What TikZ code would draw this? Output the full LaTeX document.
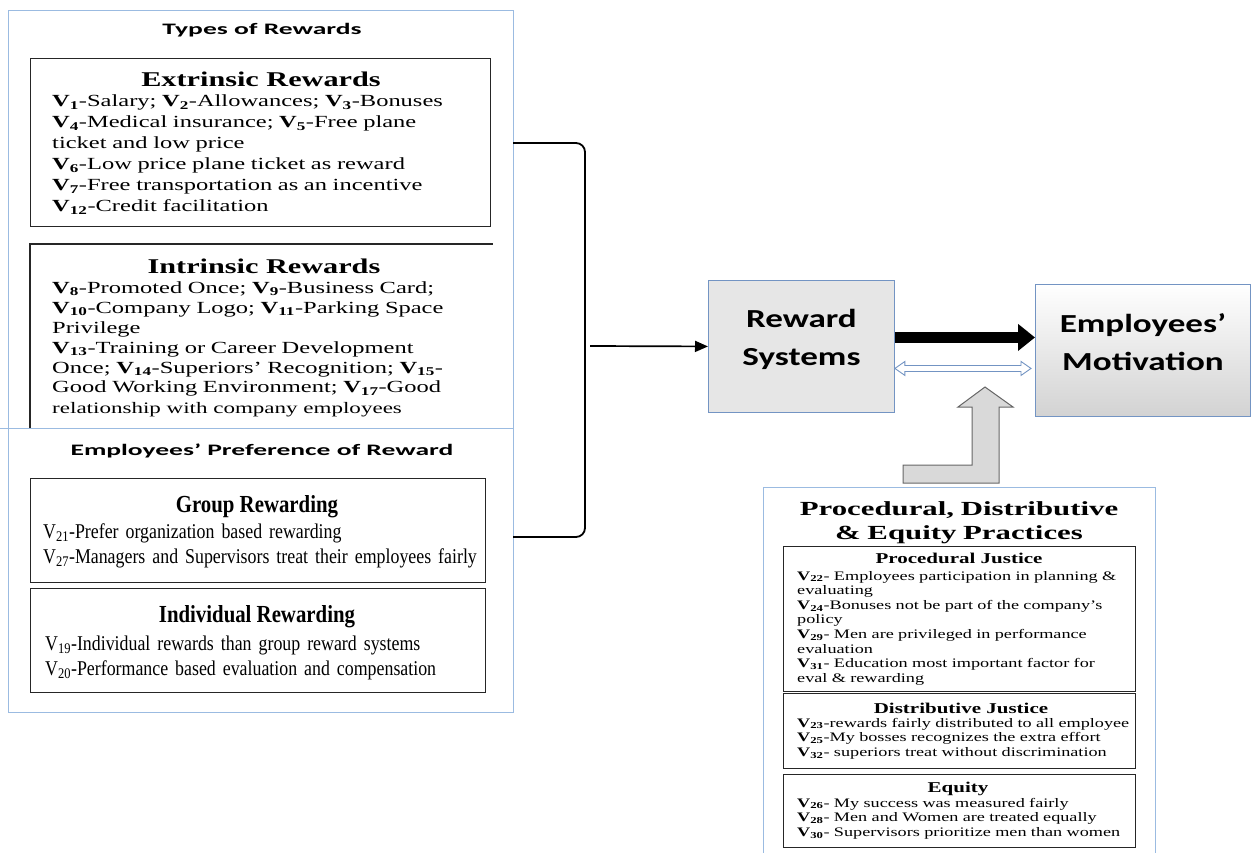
\documentclass[tikz,border=0pt]{standalone}
\usepackage{fontspec}
\setmainfont{Liberation Serif}
\newfontfamily\widefont{Liberation Serif}[FakeStretch=1.44]
\newfontfamily\narrowfont{Liberation Serif}[FakeStretch=0.85]
\newfontfamily\pracfont{Liberation Serif}[FakeStretch=1.4]
\newfontfamily\titlefont{Liberation Serif}[FakeStretch=1.54]
\newfontfamily\secfont{Carlito}[FakeStretch=1.72]
\newfontfamily\blockfont{Carlito}[FakeStretch=1.35]
\usetikzlibrary{arrows.meta,calc}
\definecolor{frameblue}{RGB}{155,187,225}
\definecolor{boxblue}{RGB}{115,148,195}
\definecolor{boxgray}{RGB}{230,230,230}
\definecolor{arrowgray}{RGB}{217,217,217}
\newcommand{\vbold}[1]{\textbf{V\textsubscript{#1}}}
\newcommand{\vplain}[1]{V\textsubscript{#1}}
\begin{document}
\begin{tikzpicture}[x=1pt,y=-1pt,
    outerframe/.style={draw=frameblue,line width=0.9pt,inner sep=0pt,anchor=north west},
    ibox/.style={draw=black!85,line width=1.4pt,inner sep=0pt,anchor=north west},
    iline/.style={draw=black!85,line width=1.4pt},
    block/.style={draw=boxblue,line width=0.9pt,inner sep=0pt,anchor=north west,align=center,
        font=\blockfont\bfseries\fontsize{26}{38}\selectfont},
    secttitle/.style={font=\secfont\bfseries\fontsize{16}{19}\selectfont,anchor=base,inner sep=0pt},
    widehead/.style={font=\widefont\bfseries\fontsize{21}{25}\selectfont,anchor=base,inner sep=0pt},
    widebody/.style={font=\widefont\fontsize{17}{21}\selectfont,anchor=base west,inner sep=0pt,text width=450pt,align=left},
    narrowhead/.style={font=\narrowfont\bfseries\fontsize{24.5}{28}\selectfont,anchor=base,inner sep=0pt},
    narrowbody/.style={font=\narrowfont\fontsize{21}{25}\selectfont,anchor=base west,inner sep=0pt,text width=450pt,align=left},
    practitle/.style={font=\titlefont\bfseries\fontsize{20}{24}\selectfont,anchor=base,inner sep=0pt,text width=392pt,align=center},
    prachead/.style={font=\pracfont\bfseries\fontsize{15}{18}\selectfont,anchor=base,inner sep=0pt},
    pracbody/.style={font=\pracfont\fontsize{13}{14.6}\selectfont,anchor=base west,inner sep=0pt,text width=400pt,align=left},
    bracket/.style={line width=1.8pt,rounded corners=9pt},
    feed/.style={line width=1.7pt,-{Triangle[length=13pt,width=11pt]}},
    thickarrow/.style={line width=11pt,-{Triangle[length=17pt,width=26pt]}},
    hollowarrow/.style={draw=boxblue,fill=white,line width=0.9pt}]
    \useasboundingbox (0,0) rectangle (1253,853);
    \node[outerframe,minimum width=505pt,minimum height=702pt] (types) at (8,10) {};
    \draw[frameblue,line width=0.9pt] (0,428) -- (513,428);
    \node[secttitle] (typestitle) at (262,35) {Types of Rewards};
    \node[ibox,minimum width=460pt,minimum height=168pt] (extr) at (30,58) {};
    \node[widehead] (extrhead) at (261,87) {Extrinsic Rewards};
    \node[widebody] (extrbody) at (52,107) {\vbold{1}-Salary; \vbold{2}-Allowances; \vbold{3}-Bonuses\\
        \vbold{4}-Medical insurance; \vbold{5}-Free plane\\
        ticket and low price\\
        \vbold{6}-Low price plane ticket as reward\\
        \vbold{7}-Free transportation as an incentive\\
        \vbold{12}-Credit facilitation};
    \draw[iline] (30,428) |- (493,244);
    \node[widehead] (intrhead) at (264,273) {Intrinsic Rewards};
    \node[widebody,font=\widefont\fontsize{17}{20}\selectfont] (intrbody) at (52,293) {\vbold{8}-Promoted Once; \vbold{9}-Business Card;\\
        \vbold{10}-Company Logo; \vbold{11}-Parking Space\\
        Privilege\\
        \vbold{13}-Training or Career Development\\
        Once; \vbold{14}-Superiors’ Recognition; \vbold{15}-\\
        Good Working Environment; \vbold{17}-Good\\
        {\fontsize{16}{20}\selectfont relationship with company employees}};
    \node[secttitle] (preftitle) at (262,455) {Employees’ Preference of Reward};
    \node[ibox,minimum width=455pt,minimum height=104pt] (grp) at (30,478) {};
    \node[narrowhead] (grphead) at (257,512) {Group Rewarding};
    \node[narrowbody] (grpbody) at (43,538) {\vplain{21}-Prefer organization based rewarding\\
        \vplain{27}-Managers and Supervisors treat their employees fairly};
    \node[ibox,minimum width=455pt,minimum height=104pt] (ind) at (30,588) {};
    \node[narrowhead] (indhead) at (257,622) {Individual Rewarding};
    \node[narrowbody] (indbody) at (45,650) {\vplain{19}-Individual rewards than group reward systems\\
        \vplain{20}-Performance based evaluation and compensation};
    \node[block,fill=boxgray,minimum width=186pt,minimum height=132pt,text depth=17.5pt] (rs) at (708,280) {Reward\\Systems};
    \node[block,top color=white,bottom color=gray!35,minimum width=215pt,minimum height=132pt,text depth=16pt] (em) at (1035,284) {Employees’\\Motivation};
    \coordinate (brtop) at (513,143);
    \coordinate (brmid) at (585,346);
    \coordinate (brbot) at (513,537);
    \draw[bracket] (brtop) -| (brmid) |- (brbot);
    \draw[feed] ([xshift=5pt]brmid) -- (rs.west);
    \coordinate (thk) at ([yshift=9pt]rs.east);
    \draw[thickarrow] (thk) -- (thk -| em.west);
    \coordinate (dbl) at ([yshift=-22pt]rs.east);
    \coordinate (dbr) at ($(dbl -| em.west)+(-4,0)$);
    \draw[hollowarrow] (dbl) -- ++(10,-7) -- ++(0,4) -- ($(dbr)+(-10,-3)$) -- ++(0,-4) -- (dbr)
        -- ++(-10,7) -- ++(0,-4) -- ($(dbl)+(10,3)$) -- ++(0,4) -- cycle;
    \draw[fill=arrowgray,draw=black!60,line width=1pt] (985,387) -- (1013,407) -- (999,407) -- (999,483)
        -- (903,483) -- (903,465) -- (972,465) -- (972,407) -- (958,407) -- cycle;
    \node[outerframe,minimum width=392pt,minimum height=400pt] (pde) at (763,487) {};
    \node[practitle] (pdetitle) at (959,515) {Procedural, Distributive\\\& Equity Practices};
    \node[ibox,minimum width=352pt,minimum height=145pt] (proc) at (783,546) {};
    \node[prachead] (prochead) at (959,563) {Procedural Justice};
    \node[pracbody] (procbody) at (797,580) {\vbold{22}- Employees participation in planning \&\\
        evaluating\\
        \vbold{24}-Bonuses not be part of the company’s\\
        policy\\
        \vbold{29}- Men are privileged in performance\\
        evaluation\\
        \vbold{31}- Education most important factor for\\
        eval \& rewarding};
    \node[ibox,minimum width=352pt,minimum height=75pt] (dist) at (783,693) {};
    \node[prachead] (disthead) at (961,713) {Distributive Justice};
    \node[pracbody] (distbody) at (797,727) {\vbold{23}-rewards fairly distributed to all employee\\
        \vbold{25}-My bosses recognizes the extra effort\\
        \vbold{32}- superiors treat without discrimination};
    \node[ibox,minimum width=352pt,minimum height=73pt] (equ) at (783,774) {};
    \node[prachead] (equhead) at (958,792) {Equity};
    \node[pracbody] (equbody) at (797,807) {\vbold{26}- My success was measured fairly\\
        \vbold{28}- Men and Women are treated equally\\
        \vbold{30}- Supervisors prioritize men than women};
\end{tikzpicture}
\end{document}
